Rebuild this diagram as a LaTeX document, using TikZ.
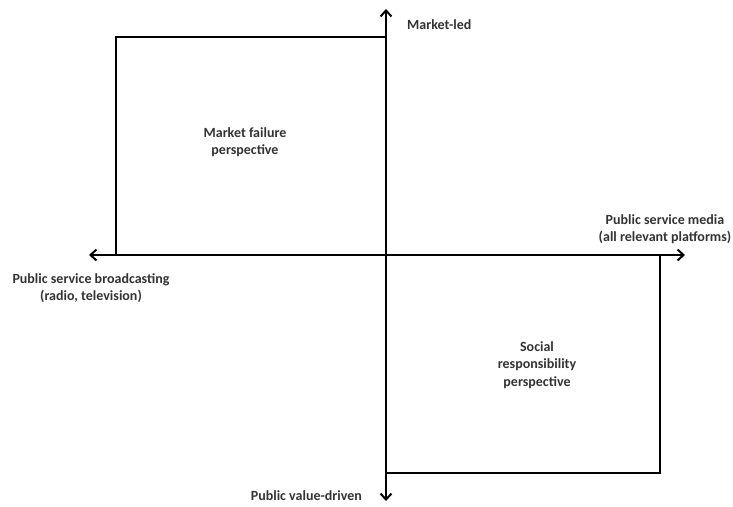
\documentclass[tikz,border=0pt]{standalone}
\usepackage{fontspec}
\setmainfont{Carlito}
\usetikzlibrary{arrows.meta}
\begin{document}
\begin{tikzpicture}[x=1pt,y=-1pt,
  axis/.style={line width=2pt,-{Straight Barb[length=6pt,width=11pt,line width=2pt]}},
  frame/.style={line width=1.7pt},
  lbl/.style={font=\bfseries\fontsize{14}{17.5}\selectfont,text=black!80,align=center,inner sep=0pt}]
  \useasboundingbox (0,0) rectangle (733,506);
  % origin and axis ends
  \coordinate (o) at (386,255);
  \coordinate (top) at (386,9);
  \coordinate (bot) at (386,501);
  \coordinate (lft) at (89,255);
  \coordinate (rgt) at (685,255);
  % quadrant frames
  \coordinate (a1) at (116,37);
  \coordinate (a2) at (386,37);
  \coordinate (b1) at (660,255);
  \coordinate (b2) at (660,473);
  \coordinate (b3) at (386,473);
  \draw[frame] (o) -- (a1 |- o) -- (a1) -- (a2);
  \draw[frame] (b1) -- (b2) -- (b3);
  % axes
  \draw[axis] (o) -- (top);
  \draw[axis] (o) -- (bot);
  \draw[axis] (o) -- (lft);
  \draw[axis] (o) -- (rgt);
  % labels
  \node[lbl,anchor=west] (ml) at (407,25) {Market-led};
  \node[lbl] (psb) at (91,288) {Public service broadcasting\\(radio, television)};
  \node[lbl] (psm) at (665,229) {Public service media\\(all relevant platforms)};
  \node[lbl,anchor=east] (pvd) at (362,496) {Public value-driven};
  \node[lbl] (mf) at (245,142) {Market failure\\perspective};
  \node[lbl] (sr) at (537,365) {Social\\responsibility\\perspective};
\end{tikzpicture}
\end{document}
